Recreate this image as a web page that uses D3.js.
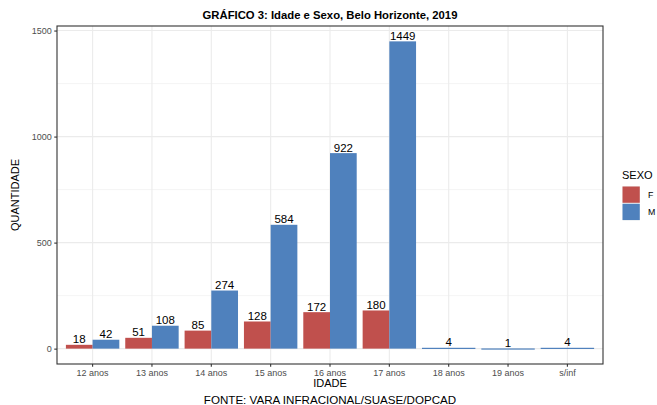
<!DOCTYPE html>
<html>
<head>
<meta charset="utf-8">
<script src="https://cdn.jsdelivr.net/npm/d3@7"></script>
<style>
  html, body { margin: 0; padding: 0; background: #fff; }
  svg { display: block; font-family: "Liberation Sans", Arial, Helvetica, sans-serif; }
</style>
</head>
<body>
<svg id="chart" width="657" height="405"></svg>
<script>
const categories = ["12 anos", "13 anos", "14 anos", "15 anos", "16 anos", "17 anos", "18 anos", "19 anos", "s/inf"];
const seriesNames = ["F", "M"];
const valuesF = [18, 51, 85, 128, 172, 180, null, null, null];
const valuesM = [42, 108, 274, 584, 922, 1449, 4, 1, 4];
const yTicks = [0, 500, 1000, 1500];
const yMinor = [250, 750, 1250];
const colors = { F: "#C0504D", M: "#4F81BD" };
const titleText = "GRÁFICO 3: Idade e Sexo, Belo Horizonte, 2019";
const xTitle = "IDADE";
const yTitle = "QUANTIDADE";
const captionText = "FONTE: VARA INFRACIONAL/SUASE/DOPCAD";
const legendTitle = "SEXO";

const svg = d3.select("#chart");
const panel = { left: 57, right: 603, top: 26, bottom: 364 };

const x = d3.scaleBand().domain(categories)
  .range([panel.left, panel.right]).paddingInner(0.1).paddingOuter(0.15);

const maxV = d3.max(valuesM.concat(valuesF.filter(v => v != null)));
const ex = maxV * 0.05;
const y = d3.scaleLinear().domain([0 - ex, maxV + ex]).range([panel.bottom, panel.top]);

// panel background
svg.append("rect").attr("x", panel.left).attr("y", panel.top)
  .attr("width", panel.right - panel.left).attr("height", panel.bottom - panel.top)
  .attr("fill", "#fff");

// grid
const grid = svg.append("g");
yMinor.forEach(v => grid.append("line").attr("x1", panel.left).attr("x2", panel.right)
  .attr("y1", y(v)).attr("y2", y(v)).attr("stroke", "#EBEBEB").attr("stroke-width", 0.55));
yTicks.forEach(v => grid.append("line").attr("x1", panel.left).attr("x2", panel.right)
  .attr("y1", y(v)).attr("y2", y(v)).attr("stroke", "#EBEBEB").attr("stroke-width", 1.1));
categories.forEach(c => {
  const cx = x(c) + x.bandwidth() / 2;
  grid.append("line").attr("x1", cx).attr("x2", cx).attr("y1", panel.top).attr("y2", panel.bottom)
    .attr("stroke", "#EBEBEB").attr("stroke-width", 1.1);
});

// data rows
const rows = categories.map((c, i) => {
  const present = [];
  if (valuesF[i] != null) present.push({ s: "F", v: valuesF[i] });
  if (valuesM[i] != null) present.push({ s: "M", v: valuesM[i] });
  return { c, present };
});

const bars = svg.append("g");
const labels = svg.append("g");
rows.forEach(r => {
  const sub = d3.scaleBand().domain(r.present.map(d => d.s)).range([x(r.c), x(r.c) + x.bandwidth()]).padding(0);
  r.present.forEach(d => {
    const y0 = y(0), y1 = y(d.v);
    bars.append("rect")
      .attr("x", sub(d.s)).attr("width", sub.bandwidth())
      .attr("y", Math.min(y0, y1)).attr("height", Math.max(Math.abs(y0 - y1), 1.2))
      .attr("fill", colors[d.s]);
    labels.append("text")
      .attr("x", sub(d.s) + sub.bandwidth() / 2)
      .attr("y", Math.min(y0, y1) - 1.5)
      .attr("text-anchor", "middle")
      .attr("font-size", 11.5)
      .attr("fill", "#000")
      .text(d.v);
  });
});

// panel border
svg.append("rect").attr("x", panel.left).attr("y", panel.top)
  .attr("width", panel.right - panel.left).attr("height", panel.bottom - panel.top)
  .attr("fill", "none").attr("stroke", "#333333").attr("stroke-width", 1.1);

// axes
const yAxis = d3.axisLeft(y).tickValues(yTicks).tickFormat(d3.format("d")).tickSize(2.75).tickPadding(2.5);
const gy = svg.append("g").attr("transform", `translate(${panel.left},0)`).call(yAxis);
gy.select(".domain").remove();
gy.selectAll(".tick line").attr("stroke", "#333333").attr("stroke-width", 1.1);
gy.selectAll(".tick text").attr("font-size", 9).attr("fill", "#4D4D4D")
  .attr("font-family", "Liberation Sans, Arial, sans-serif");

const xAxis = d3.axisBottom(x).tickSize(2.75).tickPadding(2.5);
const gx = svg.append("g").attr("transform", `translate(0,${panel.bottom})`).call(xAxis);
gx.select(".domain").remove();
gx.selectAll(".tick line").attr("stroke", "#333333").attr("stroke-width", 1.1);
gx.selectAll(".tick text").attr("font-size", 9).attr("fill", "#4D4D4D")
  .attr("font-family", "Liberation Sans, Arial, sans-serif");

const midX = (panel.left + panel.right) / 2;
const midY = (panel.top + panel.bottom) / 2;

// title
svg.append("text").attr("x", midX).attr("y", 19).attr("text-anchor", "middle")
  .attr("font-size", 11.3).attr("font-weight", "bold").attr("fill", "#000").text(titleText);

// axis titles
svg.append("text").attr("x", midX).attr("y", 387).attr("text-anchor", "middle")
  .attr("font-size", 11).attr("fill", "#000").text(xTitle);
svg.append("text").attr("transform", `translate(19,${midY}) rotate(-90)`).attr("text-anchor", "middle")
  .attr("font-size", 11).attr("fill", "#000").text(yTitle);

// caption
svg.append("text").attr("x", midX).attr("y", 404).attr("text-anchor", "middle")
  .attr("font-size", 11.6).attr("fill", "#000").text(captionText);

// legend
const lg = svg.append("g").attr("transform", "translate(622,0)");
lg.append("text").attr("x", 0).attr("y", 179).attr("font-size", 11).attr("fill", "#000").text(legendTitle);
seriesNames.forEach((s, i) => {
  const ky = 186 + i * 17.28;
  lg.append("rect").attr("x", 0.5).attr("y", ky).attr("width", 17.28).attr("height", 17.28).attr("fill", "#F2F2F2");
  lg.append("rect").attr("x", 0.5).attr("y", ky + 0.5).attr("width", 17.28).attr("height", 16.28).attr("fill", colors[s]);
  lg.append("text").attr("x", 26).attr("y", ky + 8.64).attr("dy", "0.35em")
    .attr("font-size", 8.8).attr("fill", "#000").text(s);
});
</script>
</body>
</html>
